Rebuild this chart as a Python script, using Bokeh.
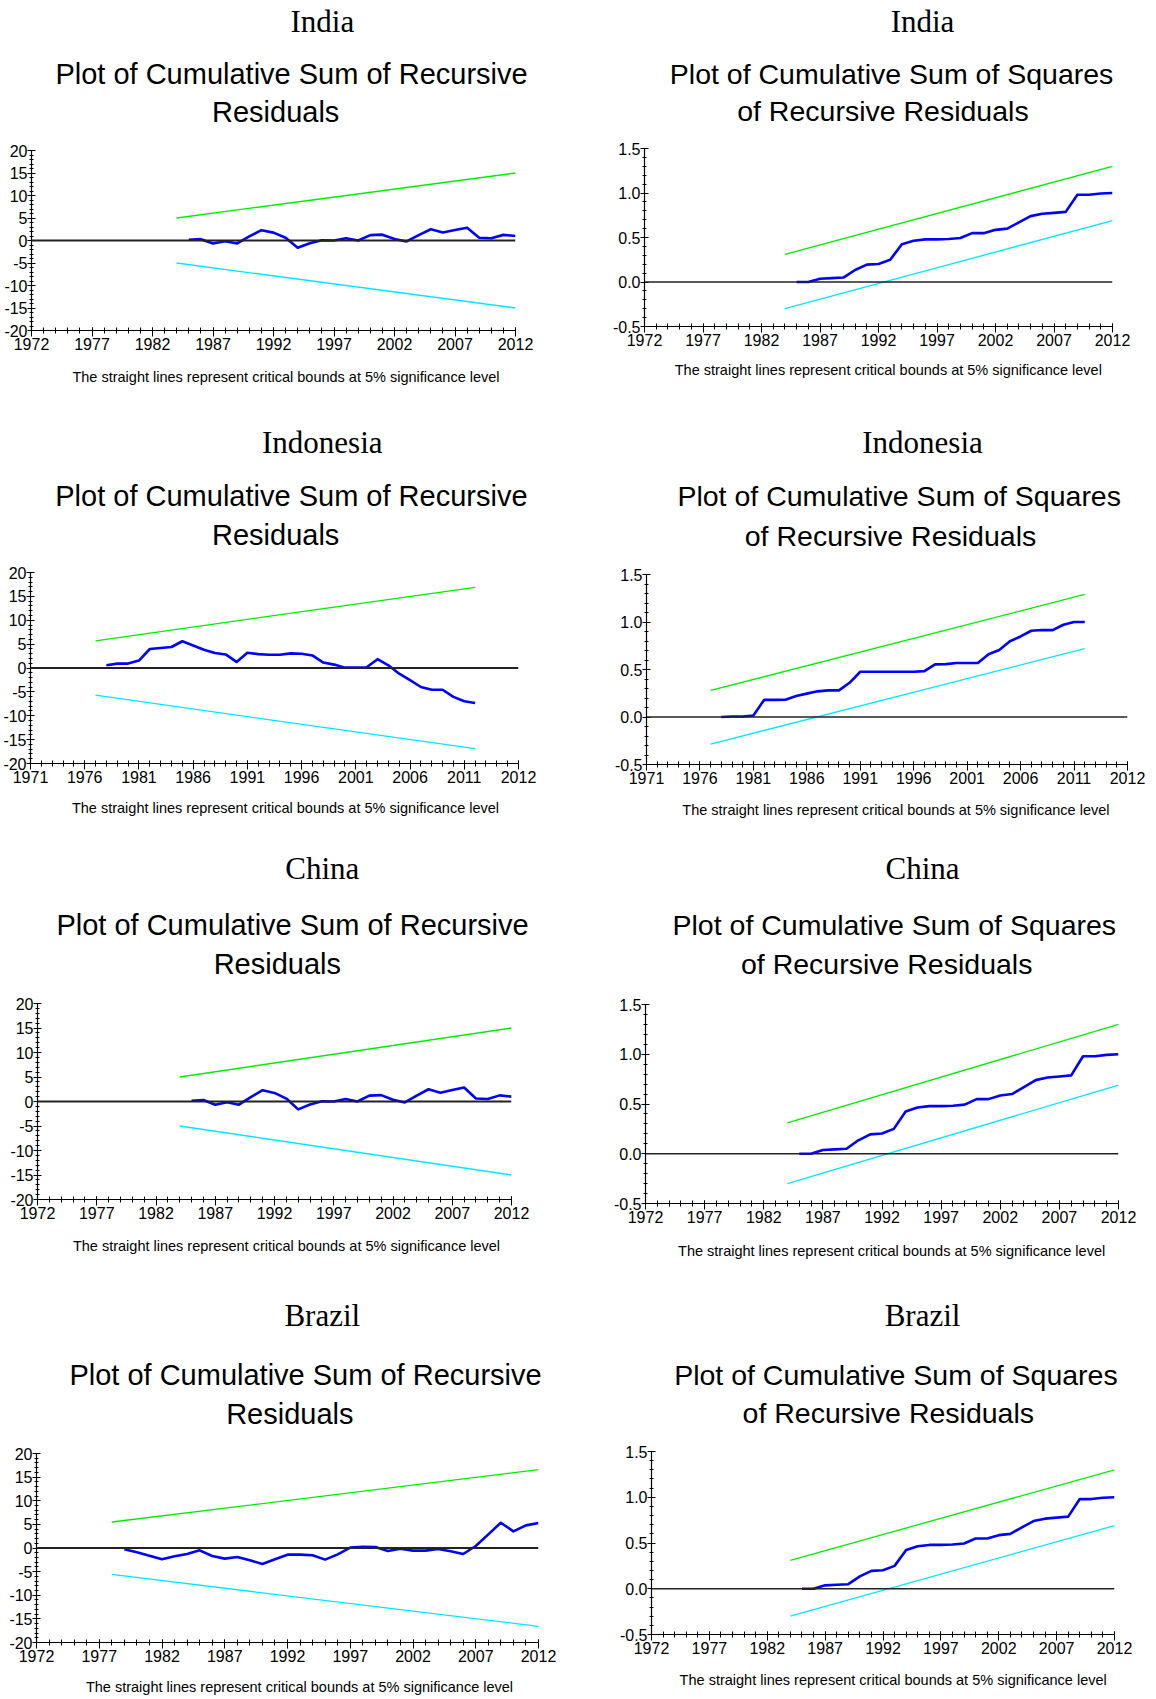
from bokeh.plotting import figure
from bokeh.models import Range1d, FixedTicker, Span, PrintfTickFormatter
from bokeh.layouts import column, row
from bokeh.embed import file_html
from bokeh.resources import INLINE
from bokeh.core.properties import value

# ---------------- data ----------------
countries = ["India", "Indonesia", "China", "Brazil"]
title_cusum = ["Plot of Cumulative Sum of Recursive", "Residuals"]
title_cusumsq = ["Plot of Cumulative Sum of Squares", "of Recursive Residuals"]
note = "The straight lines represent critical bounds at 5% significance level"

# India
india_years = list(range(1985, 2013))
india_cusum = [0.15, 0.3, -0.65, -0.15, -0.65, 0.9, 2.3, 1.75, 0.6, -1.6,
               -0.6, 0.05, 0.0, 0.5, 0.0, 1.2, 1.3, 0.35, -0.2, 1.2,
               2.5, 1.8, 2.35, 2.85, 0.6, 0.5, 1.25, 1.0]
india_cusumsq = [0.0, 0.0, 0.037, 0.044, 0.05, 0.135, 0.195, 0.203, 0.25, 0.424,
                 0.464, 0.479, 0.479, 0.483, 0.494, 0.549, 0.549, 0.586, 0.6, 0.67,
                 0.74, 0.766, 0.777, 0.788, 0.98, 0.98, 0.994, 1.0]
india_bound_years = [1984, 2012]
india_cusum_upper = [5.0, 15.0]
india_cusum_lower = [-5.0, -15.0]
india_sq_upper = [0.31, 1.30]
india_sq_lower = [-0.30, 0.69]

# Indonesia
indonesia_years = list(range(1978, 2013))
indonesia_cusum = [0.57, 0.92, 0.92, 1.56, 3.98, 4.2, 4.4, 5.6, 4.7, 3.84,
                   3.13, 2.84, 1.28, 3.2, 2.91, 2.77, 2.77, 3.06, 2.99, 2.63,
                   1.14, 0.71, 0.07, 0.07, 0.14, 1.85, 0.57, -1.2, -2.56, -3.98,
                   -4.55, -4.55, -6.04, -6.97, -7.32]
indonesia_cusumsq = [0.0, 0.005, 0.005, 0.016, 0.18, 0.18, 0.182, 0.22, 0.246, 0.27,
                     0.28, 0.28, 0.36, 0.476, 0.476, 0.476, 0.476, 0.476, 0.476, 0.483,
                     0.554, 0.557, 0.568, 0.568, 0.568, 0.66, 0.706, 0.798, 0.848, 0.908,
                     0.915, 0.915, 0.971, 1.0, 1.0]
indonesia_bound_years = [1977, 2012]
indonesia_cusum_upper = [5.7, 16.9]
indonesia_cusum_lower = [-5.7, -16.9]
indonesia_sq_upper = [0.28, 1.29]
indonesia_sq_lower = [-0.285, 0.72]

# China
china_years = list(range(1985, 2013))
china_cusum = [0.15, 0.3, -0.65, -0.15, -0.65, 0.9, 2.3, 1.75, 0.6, -1.6,
               -0.6, 0.05, 0.0, 0.5, 0.0, 1.2, 1.3, 0.35, -0.2, 1.2,
               2.5, 1.8, 2.35, 2.85, 0.6, 0.5, 1.25, 1.0]
china_cusumsq = [0.0, 0.0, 0.037, 0.044, 0.05, 0.135, 0.195, 0.203, 0.25, 0.424,
                 0.464, 0.479, 0.479, 0.483, 0.494, 0.549, 0.549, 0.586, 0.6, 0.67,
                 0.74, 0.766, 0.777, 0.788, 0.98, 0.98, 0.994, 1.0]
china_bound_years = [1984, 2012]
china_cusum_upper = [5.0, 15.0]
china_cusum_lower = [-5.0, -15.0]
china_sq_upper = [0.31, 1.30]
china_sq_lower = [-0.30, 0.69]

# Brazil
brazil_years = list(range(1979, 2013))
brazil_cusum = [-0.28, -0.92, -1.62, -2.39, -1.76, -1.27, -0.49, -1.69, -2.25, -1.9,
                -2.6, -3.38, -2.39, -1.41, -1.41, -1.55, -2.46, -1.34, 0.07, 0.28,
                0.21, -0.63, -0.14, -0.56, -0.56, -0.21, -0.7, -1.27, 0.42, 2.89,
                5.35, 3.52, 4.79, 5.28]
brazil_bound_years = [1978, 2012]
brazil_cusum_upper = [5.5, 16.6]
brazil_cusum_lower = [-5.6, -16.6]
brazil_sq_years = list(range(1985, 2013))
brazil_cusumsq = [0.0, 0.0, 0.037, 0.044, 0.05, 0.135, 0.195, 0.203, 0.25, 0.424,
                  0.464, 0.479, 0.479, 0.483, 0.494, 0.549, 0.549, 0.586, 0.6, 0.67,
                  0.74, 0.766, 0.777, 0.788, 0.98, 0.98, 0.994, 1.0]
brazil_sq_bound_years = [1984, 2012]
brazil_sq_upper = [0.31, 1.30]
brazil_sq_lower = [-0.30, 0.69]

# axis tick definitions
cusum_yticks = [-20, -15, -10, -5, 0, 5, 10, 15, 20]
cusumsq_yticks = [-0.5, 0.0, 0.5, 1.0, 1.5]
std_major = list(range(1972, 2013, 5))
indo_major = list(range(1971, 2017, 5))
indo_over = {2016: "2012"}

SERIF = "Liberation Serif"
SANS = "Liberation Sans"
COL_W = 578


def plot_panel(height, borders, x_start, x_end, x_major, x_overrides,
               kind, years, series, byears, upper, lower):
    left, right, top, bottom = [int(round(b)) for b in borders]
    yr = Range1d(-20, 20) if kind == "cusum" else Range1d(-0.5, 1.5)
    p = figure(width=COL_W, height=height, x_range=Range1d(x_start, x_end), y_range=yr,
               output_backend="svg", toolbar_location=None,
               min_border_left=left, min_border_right=right,
               min_border_top=top, min_border_bottom=bottom)
    p.outline_line_color = None
    p.xgrid.visible = False
    p.ygrid.visible = False
    p.background_fill_color = "white"
    p.border_fill_color = "white"

    xa = p.xaxis[0]
    xa.ticker = FixedTicker(ticks=x_major, minor_ticks=list(range(x_start, x_end + 1)))
    xa.major_label_overrides = x_overrides
    xa.major_tick_in = 3
    xa.major_tick_out = 6
    xa.minor_tick_in = 3
    xa.minor_tick_out = 3
    xa.major_label_standoff = 1
    ya = p.yaxis[0]
    if kind == "cusum":
        ya.ticker = FixedTicker(ticks=cusum_yticks, minor_ticks=list(range(-20, 21)))
        ya.formatter = PrintfTickFormatter(format="%d")
    else:
        ya.ticker = FixedTicker(ticks=cusumsq_yticks,
                                minor_ticks=[i / 10 for i in range(-5, 16)])
        ya.formatter = PrintfTickFormatter(format="%.1f")
    ya.major_tick_in = 4
    ya.major_tick_out = 4
    ya.minor_tick_in = 2
    ya.minor_tick_out = 2
    ya.major_label_standoff = 0
    for ax in (xa, ya):
        ax.axis_line_color = "black"
        ax.axis_line_width = 1.2
        ax.major_tick_line_color = "black"
        ax.minor_tick_line_color = "black"
        ax.major_label_text_font = SANS
        ax.major_label_text_font_size = "16px"
        ax.major_label_text_color = "black"

    p.add_layout(Span(location=0, dimension="width", line_color="#222222",
                      line_width=1.8 if kind == "cusum" else 1.3))
    p.line(byears, upper, line_color="#00ee00", line_width=1.3)
    p.line(byears, lower, line_color="#00e8ff", line_width=1.3)
    p.line(years, series, line_color="#0000ff", line_width=2.6, line_join="round")
    return row(p)      # wrapped so that sibling frames are not aligned


def text_strip(height, col_left, top, note_pos=None, name=None, titles=None, title_fs=29):
    """Blank strip whose frame is the whole canvas; texts placed in page pixels."""
    t = figure(width=COL_W, height=height, x_range=Range1d(col_left, col_left + COL_W),
               y_range=Range1d(top + height, top), output_backend="svg",
               toolbar_location=None, x_axis_type=None, y_axis_type=None, min_border=0)
    t.outline_line_color = None
    t.background_fill_color = "white"
    t.border_fill_color = "white"
    if note_pos:
        t.text(x=[note_pos[0]], y=[note_pos[1]], text=[note], text_font=value(SANS),
               text_font_size="14.5px", text_align="center", text_baseline="middle",
               text_color="black")
    if name:
        t.text(x=[name[1]], y=[name[2]], text=[name[0]], text_font=value(SERIF),
               text_font_size="31px", text_align="center", text_baseline="middle",
               text_color="black")
    if titles:
        xs, ys, tx = zip(*titles)
        t.text(x=list(xs), y=list(ys), text=list(tx), text_font=value(SANS),
               text_font_size=f"{title_fs}px", text_align="center", text_baseline="middle",
               text_color="black")
    return row(t)


L, R = 0, 578

# ---------- left column (CUSUM) ----------
left_col = column(
    text_strip(138, L, 0, None, (countries[0], 321.8, 20.6),
               [(291.0, 73.7, title_cusum[0]), (275.2, 111.6, title_cusum[1])]),
    plot_panel(226, (31.4, 63.4, 11.5, 33.6), 1972, 2012, std_major, {}, "cusum",
               india_years, india_cusum, india_bound_years, india_cusum_upper, india_cusum_lower),
    text_strip(197, L, 364, (285.5, 376), (countries[1], 321.8, 442),
               [(290.9, 495.1, title_cusum[0]), (275.2, 534.1, title_cusum[1])]),
    plot_panel(235, (29.3, 60.1, 11, 33.3), 1971, 2016, indo_major, indo_over, "cusum",
               indonesia_years, indonesia_cusum, indonesia_bound_years,
               indonesia_cusum_upper, indonesia_cusum_lower),
    text_strip(196, L, 796, (285.0, 807.1), (countries[2], 321.8, 867.8),
               [(292.0, 924.1, title_cusum[0]), (276.8, 963.1, title_cusum[1])]),
    plot_panel(242, (36.8, 66.6, 11.2, 34.7), 1972, 2012, std_major, {}, "cusum",
               china_years, china_cusum, china_bound_years, china_cusum_upper, china_cusum_lower),
    text_strip(206, L, 1234, (286.0, 1245.9), (countries[3], 321.8, 1315.2),
               [(305.0, 1374.8, title_cusum[0]), (289.3, 1413.8, title_cusum[1])]),
    plot_panel(237, (35.8, 39.5, 12.8, 34.6), 1972, 2012, std_major, {}, "cusum",
               brazil_years, brazil_cusum, brazil_bound_years, brazil_cusum_upper, brazil_cusum_lower),
    text_strip(21, L, 1677, (299.0, 1686.9)),
)

# ---------- right column (CUSUMSQ) ----------
right_col = column(
    text_strip(138, R, 0, None, (countries[0], 922, 20.6),
               [(891.1, 73.7, title_cusumsq[0]), (882.4, 110.5, title_cusumsq[1])], 28.5),
    plot_panel(220, (65.5, 44.4, 10.4, 31.9), 1972, 2012, std_major, {}, "cusumsq",
               india_years, india_cusumsq, india_bound_years, india_sq_upper, india_sq_lower),
    text_strip(203, R, 358, (887.8, 369.4), (countries[1], 922, 442),
               [(898.7, 495.1, title_cusumsq[0]), (890.0, 535.2, title_cusumsq[1])], 28.5),
    plot_panel(235, (67.7, 29.3, 13.2, 32.2), 1971, 2016, indo_major, indo_over, "cusumsq",
               indonesia_years, indonesia_cusumsq, indonesia_bound_years,
               indonesia_sq_upper, indonesia_sq_lower),
    text_strip(196, R, 796, (895.4, 809.3), (countries[2], 922, 867.8),
               [(893.8, 924.1, title_cusumsq[0]), (886.2, 963.1, title_cusumsq[1])], 28.5),
    plot_panel(242, (66.6, 38, 12.3, 31.4), 1972, 2012, std_major, {}, "cusumsq",
               china_years, china_cusumsq, china_bound_years, china_sq_upper, china_sq_lower),
    text_strip(206, R, 1234, (891.1, 1250.2), (countries[3], 922, 1315.2),
               [(895.4, 1374.8, title_cusumsq[0]), (887.8, 1412.8, title_cusumsq[1])], 28.5),
    plot_panel(228, (73.1, 42.3, 10.7, 34.2), 1972, 2012, std_major, {}, "cusumsq",
               brazil_sq_years, brazil_cusumsq, brazil_sq_bound_years, brazil_sq_upper, brazil_sq_lower),
    text_strip(30, R, 1668, (892.7, 1679.3)),
)

layout = row(left_col, right_col)
open("out.html", "w").write(file_html(layout, INLINE))
